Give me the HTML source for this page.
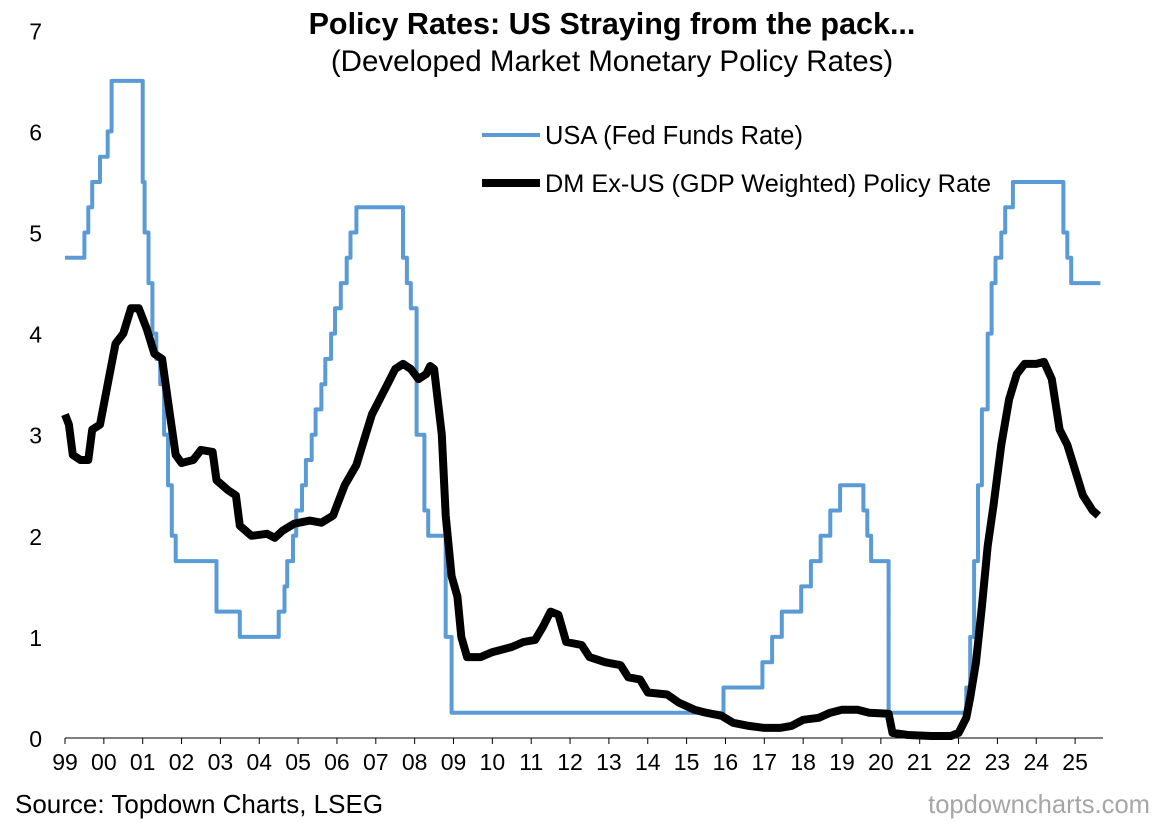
<!DOCTYPE html>
<html><head><meta charset="utf-8"><style>
body{margin:0;background:#fff;}
svg text{font-family:"Liberation Sans",Arial,sans-serif;fill:#000;}
</style></head><body>
<svg id="chart" width="1165" height="822" xmlns="http://www.w3.org/2000/svg">
<text x="612" y="34" font-size="30.5" font-weight="bold" text-anchor="middle">Policy Rates: US Straying from the pack...</text>
<text x="612" y="71" font-size="29.5" text-anchor="middle">(Developed Market Monetary Policy Rates)</text>
<g id="yaxis"></g>
<g id="xaxis"></g>
<g id="series"></g>
<g>
<line x1="482" y1="135" x2="540" y2="135" stroke="#5b9bd5" stroke-width="4"/>
<text x="545" y="144" font-size="25.5">USA (Fed Funds Rate)</text>
<line x1="482" y1="183" x2="540" y2="183" stroke="#000" stroke-width="8"/>
<text x="545" y="192" font-size="25.3">DM Ex-US (GDP Weighted) Policy Rate</text>
</g>
<text x="15" y="813" font-size="26">Source: Topdown Charts, LSEG</text>
<text x="1150" y="813" font-size="25.6" text-anchor="end" style="fill:#a6a6a6">topdowncharts.com</text>
</svg>
<script>
const yTicks=[0,1,2,3,4,5,6,7];
const xTickLabels=["99","00","01","02","03","04","05","06","07","08","09","10","11","12","13","14","15","16","17","18","19","20","21","22","23","24","25"];
const usT=[1999.0,1999.5,1999.6,1999.7,1999.9,2000.1,2000.2,2000.4,2001.0,2001.05,2001.15,2001.25,2001.35,2001.45,2001.55,2001.65,2001.75,2001.85,2001.95,2002.9,2003.5,2004.5,2004.65,2004.72,2004.87,2004.95,2005.1,2005.2,2005.35,2005.45,2005.6,2005.7,2005.85,2005.95,2006.1,2006.25,2006.35,2006.5,2007.7,2007.8,2007.9,2008.05,2008.1,2008.25,2008.35,2008.8,2008.95,2015.95,2016.95,2017.2,2017.45,2017.95,2018.2,2018.45,2018.7,2018.95,2019.55,2019.65,2019.75,2020.15,2020.2,2022.2,2022.3,2022.4,2022.5,2022.6,2022.75,2022.85,2022.95,2023.1,2023.2,2023.4,2023.55,2024.7,2024.8,2024.9,2025.0,2025.65];
const usV=[4.75,5.0,5.25,5.5,5.75,6.0,6.5,6.5,5.5,5.0,4.5,4.0,3.75,3.5,3.0,2.5,2.0,1.75,1.75,1.25,1.0,1.25,1.5,1.75,2.0,2.25,2.5,2.75,3.0,3.25,3.5,3.75,4.0,4.25,4.5,4.75,5.0,5.25,4.75,4.5,4.25,3.0,3.0,2.25,2.0,1.0,0.25,0.5,0.75,1.0,1.25,1.5,1.75,2.0,2.25,2.5,2.25,2.0,1.75,1.75,0.25,0.5,1.0,1.75,2.5,3.25,4.0,4.5,4.75,5.0,5.25,5.5,5.5,5.0,4.75,4.5,4.5,4.5];
const dmT=[1999.0,1999.1,1999.2,1999.4,1999.6,1999.7,1999.9,2000.1,2000.3,2000.5,2000.7,2000.9,2001.1,2001.3,2001.5,2001.7,2001.85,2002.0,2002.3,2002.5,2002.8,2002.9,2003.2,2003.4,2003.5,2003.8,2004.2,2004.4,2004.6,2004.9,2005.3,2005.6,2005.9,2006.0,2006.2,2006.5,2006.7,2006.9,2007.1,2007.3,2007.5,2007.7,2007.9,2008.1,2008.3,2008.4,2008.5,2008.7,2008.8,2008.95,2009.1,2009.2,2009.35,2009.7,2010.0,2010.5,2010.8,2011.1,2011.3,2011.5,2011.7,2011.9,2012.3,2012.5,2012.9,2013.3,2013.5,2013.8,2014.0,2014.5,2014.8,2015.2,2015.5,2015.9,2016.2,2016.6,2017.0,2017.4,2017.7,2018.0,2018.4,2018.7,2019.0,2019.4,2019.7,2020.2,2020.3,2020.7,2021.3,2021.8,2022.0,2022.2,2022.3,2022.45,2022.6,2022.75,2022.9,2023.1,2023.3,2023.5,2023.7,2024.0,2024.2,2024.4,2024.6,2024.8,2025.0,2025.2,2025.45,2025.6];
const dmV=[3.2,3.1,2.8,2.75,2.75,3.05,3.1,3.5,3.9,4.0,4.25,4.25,4.05,3.8,3.75,3.2,2.8,2.72,2.75,2.85,2.83,2.55,2.45,2.4,2.1,2.0,2.02,1.98,2.05,2.12,2.15,2.13,2.2,2.3,2.5,2.7,2.95,3.2,3.35,3.5,3.65,3.7,3.65,3.55,3.6,3.68,3.65,3.0,2.2,1.6,1.4,1.0,0.8,0.8,0.85,0.9,0.95,0.97,1.1,1.25,1.22,0.95,0.92,0.8,0.75,0.72,0.6,0.58,0.45,0.43,0.35,0.28,0.25,0.22,0.15,0.12,0.1,0.1,0.12,0.18,0.2,0.25,0.28,0.28,0.25,0.24,0.05,0.03,0.02,0.02,0.05,0.2,0.4,0.75,1.3,1.9,2.3,2.9,3.35,3.6,3.7,3.7,3.72,3.55,3.05,2.9,2.65,2.4,2.25,2.2];
const NS="http://www.w3.org/2000/svg";
const x0=65,pxYear=38.85,y0=738,pxUnit=101.1;
const xs=t=>x0+(t-1999)*pxYear;
const ys=v=>y0-v*pxUnit;
function mk(tag,attrs,parent){const e=document.createElementNS(NS,tag);for(const k in attrs)e.setAttribute(k,attrs[k]);parent.appendChild(e);return e;}
const yg=document.getElementById('yaxis'),xg=document.getElementById('xaxis'),sg=document.getElementById('series');
yTicks.forEach(v=>{const t=mk('text',{x:42,y:ys(v)+9,'font-size':23,'text-anchor':'end'},yg);


t.textContent=v;});
const ax=mk('line',{x1:x0,y1:y0,x2:1103,y2:y0,stroke:'#000','stroke-width':1},xg);


xTickLabels.forEach((l,i)=>{const x=xs(1999+i);
const tk=mk('line',{x1:x,y1:y0,x2:x,y2:y0+6,stroke:'#000'},xg);


const t=mk('text',{x:x,y:y0+32,'font-size':23,'text-anchor':'middle'},xg);


t.textContent=l;});
function pts(T,V){return T.map((t,i)=>xs(t).toFixed(1)+','+ys(V[i]).toFixed(1)).join(' ');}
function stepPts(T,V){const out=[];T.forEach((t,i)=>{if(i>0)out.push(xs(t).toFixed(1)+','+ys(V[i-1]).toFixed(1));out.push(xs(t).toFixed(1)+','+ys(V[i]).toFixed(1));});return out.join(' ');}
const us=mk('polyline',{points:stepPts(usT,usV),fill:'none',stroke:'#5b9bd5','stroke-width':4,'stroke-linejoin':'round'},sg);


const dm=mk('polyline',{points:pts(dmT,dmV),fill:'none',stroke:'#000','stroke-width':8,'stroke-linejoin':'round'},sg);


</script>
</body></html>
